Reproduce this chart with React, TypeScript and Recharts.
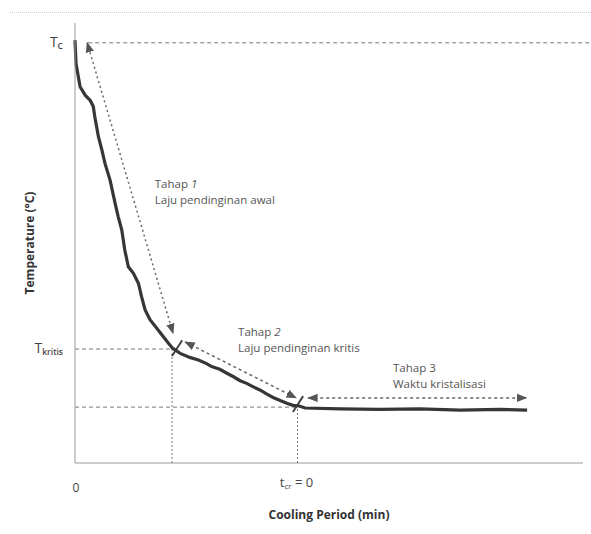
import React from 'react';
import { LineChart, Line, XAxis, YAxis, ReferenceLine, ReferenceDot } from 'recharts';

// cooling curve
const MINUTES = [0, 0.2, 1.0, 2.0, 3.0, 3.6, 3.9, 4.6, 5.3, 5.9, 6.9, 7.9, 8.5, 9.2, 9.8, 10.5, 11.5, 12.5, 13.1, 13.8, 14.8, 16.1, 17.4, 18.4, 19.2, 20.7, 22.6, 24.3, 25.9, 26.9, 28.5, 29.9, 31.2, 32.5, 33.8, 35.1, 36.4, 37.7, 39.0, 40.4, 41.7, 42.9, 44.0, 45.3, 52.2, 60.0, 67.9, 75.8, 83.7, 89.0];
const TEMPS = [96.1, 90.8, 85.5, 83.6, 82.4, 81.0, 78.7, 74.2, 71.1, 68.1, 64.3, 59.0, 56.0, 53.0, 48.4, 44.6, 43.1, 40.8, 37.8, 34.8, 32.5, 30.6, 28.7, 27.2, 26.1, 24.9, 24.0, 23.4, 22.6, 21.9, 21.3, 20.4, 19.6, 18.7, 18.1, 17.3, 16.6, 15.7, 14.9, 14.2, 13.6, 13.1, 13.0, 12.5, 12.3, 12.2, 12.3, 12.0, 12.2, 12.0];

// key levels
const T_C = 95.5;
const T_KRITIS = 25.9;
const T_END = 12.7;
const MIN_KRITIS = 19.1;
const MIN_CR = 43.8;

// stage arrows
const ARROWS = [
  { from: [2.4, 95.5], to: [19.3, 29.5], dash: '2 3' },
  { from: [21.7, 27.5], to: [43.5, 14.8], dash: '3 3' },
  { from: [45.9, 14.8], to: [88.8, 14.8], dash: '3 3' },
];
const MARKS = [
  { from: [19.1, 24.3], to: [21.1, 27.9] },
  { from: [42.9, 11.6], to: [44.9, 15.2] },
];

const NOTES = [
  { x: 15.7, y: 62.5, title: 'Tahap ', num: '1', italic: true, text: 'Laju pendinginan awal' },
  { x: 32.1, y: 28.8, title: 'Tahap ', num: '2', italic: true, text: 'Laju pendinginan kritis' },
  { x: 62.6, y: 20.7, title: 'Tahap ', num: '3', italic: false, text: 'Waktu kristalisasi' },
];

const curve = MINUTES.map((m, i) => ({ min: m, temp: TEMPS[i] }));

const YTick = ({ x, y, payload }: any) => {
  const isC = Math.abs(payload.value - T_C) < 0.01;
  return (
    <text x={x} y={y + 4} textAnchor="end" fill="#444" fontSize={14}>
      T<tspan fontSize={8.5} fontWeight={600} dy={2}>{isC ? 'C' : 'kritis'}</tspan>
    </text>
  );
};

const XTick = ({ x, y, payload }: any) => {
  if (payload.value === 0) {
    return <text x={x + 1} y={y + 27} textAnchor="middle" fill="#444" fontSize={12}>0</text>;
  }
  return (
    <text x={x - 1} y={y + 22} textAnchor="middle" fill="#444" fontSize={13}>
      t<tspan fontSize={8} dy={2}>cr</tspan><tspan dy={-2}> = 0</tspan>
    </text>
  );
};

const Note = ({ cx, cy, note }: any) => (
  <g fill="#555" fontSize={11.5}>
    <text x={cx} y={cy}>
      {note.title}<tspan fontStyle={note.italic ? 'italic' : 'normal'}>{note.num}</tspan>
    </text>
    <text x={cx} y={cy + 16}>{note.text}</text>
  </g>
);

export default function App() {
  return (
    <div style={{ position: 'absolute', left: 0, top: 0, width: 591, height: 534, background: '#fff', fontFamily: '"Open Sans", sans-serif' }}>
      <div style={{ position: 'absolute', left: 10, top: 12, width: 581, borderTop: '1px dotted #cfcfcf' }} />
      <LineChart width={591} height={534} data={curve} margin={{ top: 23, right: 8, left: 0, bottom: 0 }}>
        <defs>
          <marker id="arrowHead" viewBox="0 0 10 10" refX="9" refY="5" markerWidth="7" markerHeight="7" orient="auto-start-reverse">
            <path d="M0,1 L10,5 L0,9 z" fill="#555" />
          </marker>
        </defs>
        <XAxis dataKey="min" type="number" domain={[0, 100]} ticks={[0, MIN_CR]} tick={<XTick />} tickLine={false} tickSize={0} axisLine={{ stroke: '#9a9a9a' }} height={71}
          label={{ value: 'Cooling Period (min)', position: 'insideBottom', offset: 15, fill: '#333', fontSize: 12, fontWeight: 700 }} />
        <YAxis type="number" domain={[0, 100]} ticks={[T_KRITIS, T_C]} tick={<YTick />} tickLine={false} tickSize={0} tickMargin={12} axisLine={{ stroke: '#9a9a9a' }} width={75}
          label={{ value: 'Temperature (°C)', angle: -90, position: 'insideLeft', offset: 30, textAnchor: 'middle', fill: '#333', fontSize: 12, fontWeight: 700 }} />

        <ReferenceLine segment={[{ x: 2.6, y: T_C }, { x: 101.6, y: T_C }]} stroke="#777" strokeDasharray="4 3" ifOverflow="visible" />
        <ReferenceLine segment={[{ x: 0, y: T_KRITIS }, { x: MIN_KRITIS, y: T_KRITIS }]} stroke="#777" strokeDasharray="4 3" />
        <ReferenceLine segment={[{ x: MIN_KRITIS, y: 0 }, { x: MIN_KRITIS, y: T_KRITIS }]} stroke="#777" strokeDasharray="2 2" />
        <ReferenceLine segment={[{ x: 0, y: T_END }, { x: MIN_CR, y: T_END }]} stroke="#777" strokeDasharray="4 3" />
        <ReferenceLine segment={[{ x: MIN_CR, y: 0 }, { x: MIN_CR, y: T_END }]} stroke="#777" strokeDasharray="2 2" />

        {ARROWS.map((a, i) => (
          <ReferenceLine key={`arrow-${i}`} segment={[{ x: a.from[0], y: a.from[1] }, { x: a.to[0], y: a.to[1] }]} stroke="#666" strokeWidth={1.5}
            strokeDasharray={a.dash} markerStart="url(#arrowHead)" markerEnd="url(#arrowHead)" />
        ))}
        {MARKS.map((m, i) => (
          <ReferenceLine key={`mark-${i}`} segment={[{ x: m.from[0], y: m.from[1] }, { x: m.to[0], y: m.to[1] }]} stroke="#444" strokeWidth={2} />
        ))}

        <Line type="linear" dataKey="temp" stroke="#363636" strokeWidth={3.2} dot={false} isAnimationActive={false} />

        {NOTES.map((n, i) => (
          <ReferenceDot key={`note-${i}`} x={n.x} y={n.y} r={1} shape={(p: any) => <Note cx={p.cx} cy={p.cy} note={n} />} />
        ))}
      </LineChart>
    </div>
  );
}
